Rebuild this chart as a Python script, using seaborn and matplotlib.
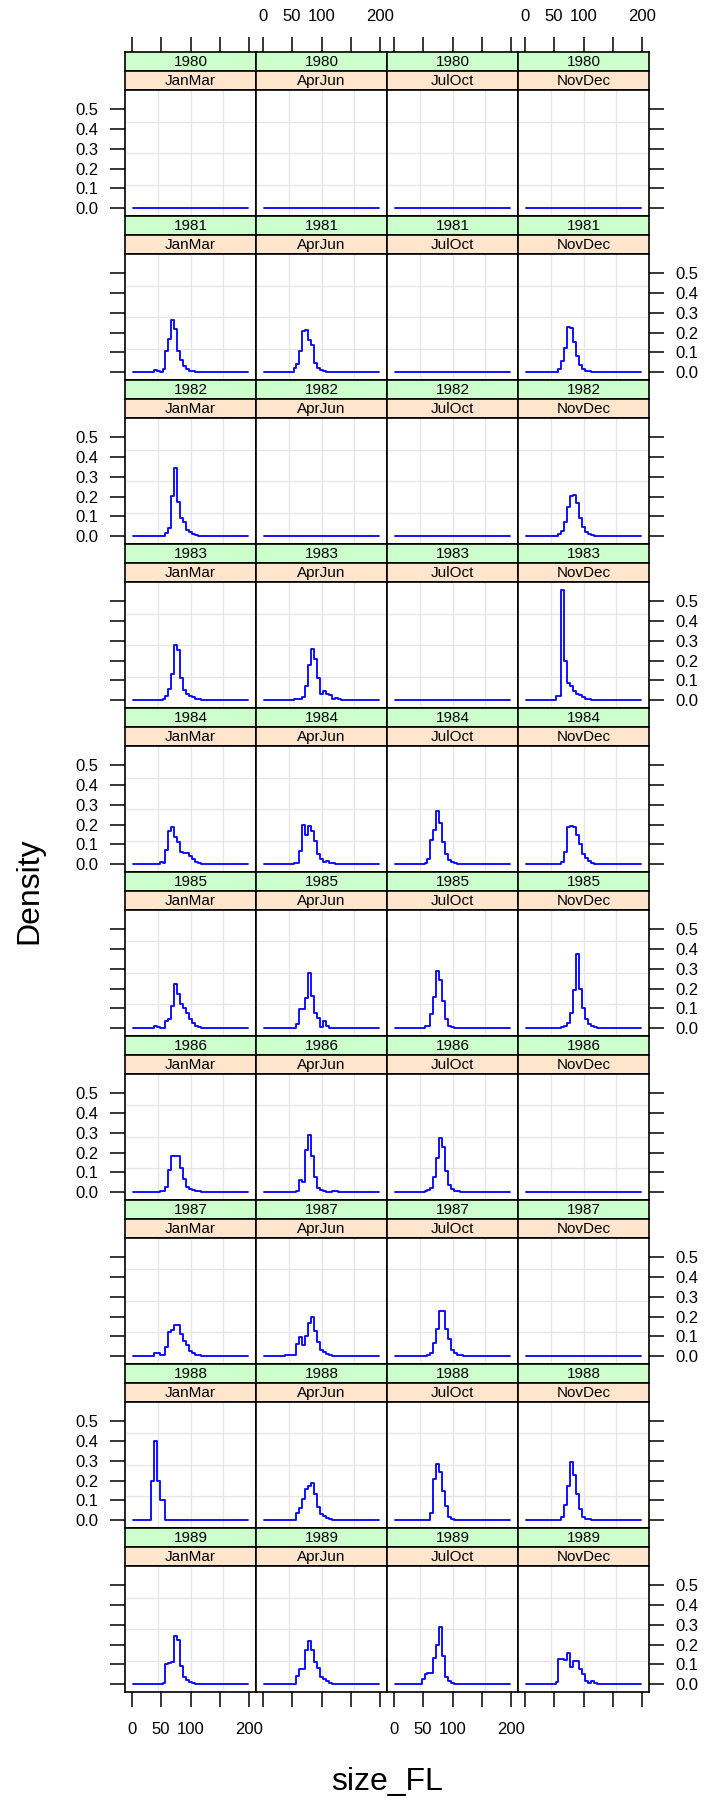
import numpy as np
import pandas as pd
import matplotlib
matplotlib.use("Agg")
import matplotlib.pyplot as plt
import seaborn as sns

sns.set_style("white")
plt.rcParams["font.family"] = ["Liberation Sans", "DejaVu Sans"]
plt.rcParams.update({"text.color": "black", "xtick.color": "black",
                     "ytick.color": "black", "axes.edgecolor": "black"})

# size class starts (cm FL), 5 cm bins
size_bins = [2.5, 7.5, 12.5, 17.5, 22.5, 27.5, 32.5, 37.5, 42.5, 47.5,
             52.5, 57.5, 62.5, 67.5, 72.5, 77.5, 82.5, 87.5, 92.5, 97.5,
             102.5, 107.5, 112.5, 117.5, 122.5, 127.5, 132.5, 137.5, 142.5, 147.5,
             152.5, 157.5, 162.5, 167.5, 172.5, 177.5, 182.5, 187.5, 192.5, 197.5]

seasons = ["JanMar", "AprJun", "JulOct", "NovDec"]
years = list(range(1980, 1990))

# per panel: (first non-zero bin, densities from that bin on)
dens_1980 = {"JanMar": (0, []), "AprJun": (0, []), "JulOct": (0, []), "NovDec": (0, [])}
dens_1981 = {
    "JanMar": (7, [0.010, 0.005, 0.003, 0.017, 0.106, 0.170, 0.265, 0.218, 0.106, 0.064, 0.034, 0.017, 0.007, 0.004]),
    "AprJun": (10, [0.022, 0.042, 0.106, 0.210, 0.215, 0.161, 0.139, 0.047, 0.022, 0.013, 0.006, 0.003]),
    "JulOct": (0, []),
    "NovDec": (11, [0.017, 0.055, 0.122, 0.230, 0.225, 0.155, 0.084, 0.039, 0.017, 0.008, 0.004]),
}
dens_1982 = {
    "JanMar": (11, [0.017, 0.042, 0.205, 0.345, 0.173, 0.093, 0.071, 0.034, 0.022, 0.012, 0.005, 0.003]),
    "AprJun": (0, []),
    "JulOct": (0, []),
    "NovDec": (11, [0.010, 0.025, 0.072, 0.146, 0.205, 0.207, 0.170, 0.090, 0.045, 0.020, 0.010, 0.005]),
}
dens_1983 = {
    "JanMar": (9, [0.003, 0.005, 0.022, 0.056, 0.135, 0.278, 0.253, 0.114, 0.054, 0.034, 0.022, 0.015, 0.008, 0.004, 0.002]),
    "AprJun": (10, [0.004, 0.004, 0.005, 0.017, 0.072, 0.177, 0.258, 0.210, 0.114, 0.034, 0.045, 0.034, 0.025, 0.008, 0.013, 0.008]),
    "JulOct": (0, []),
    "NovDec": (10, [0.022, 0.022, 0.558, 0.196, 0.086, 0.070, 0.047, 0.034, 0.025, 0.015, 0.008, 0.004]),
}
dens_1984 = {
    "JanMar": (9, [0.012, 0.008, 0.071, 0.168, 0.190, 0.140, 0.113, 0.062, 0.059, 0.059, 0.042, 0.025, 0.013, 0.007, 0.003]),
    "AprJun": (10, [0.004, 0.005, 0.067, 0.200, 0.146, 0.194, 0.170, 0.118, 0.050, 0.025, 0.013, 0.017, 0.008, 0.008, 0.003]),
    "JulOct": (10, [0.008, 0.025, 0.123, 0.173, 0.269, 0.210, 0.114, 0.050, 0.022, 0.012, 0.005, 0.003]),
    "NovDec": (12, [0.010, 0.062, 0.190, 0.194, 0.190, 0.150, 0.100, 0.050, 0.030, 0.015, 0.007, 0.003]),
}
dens_1985 = {
    "JanMar": (7, [0.012, 0.005, 0.003, 0.002, 0.037, 0.047, 0.114, 0.224, 0.173, 0.121, 0.104, 0.076, 0.045, 0.025, 0.012, 0.005, 0.002]),
    "AprJun": (11, [0.022, 0.098, 0.098, 0.152, 0.278, 0.163, 0.076, 0.054, 0.008, 0.037, 0.012, 0.002]),
    "JulOct": (10, [0.010, 0.012, 0.072, 0.160, 0.291, 0.244, 0.138, 0.045, 0.012, 0.005, 0.003]),
    "NovDec": (12, [0.005, 0.010, 0.025, 0.076, 0.194, 0.374, 0.200, 0.100, 0.045, 0.020, 0.010, 0.005]),
}
dens_1986 = {
    "JanMar": (9, [0.004, 0.005, 0.025, 0.113, 0.183, 0.185, 0.185, 0.123, 0.067, 0.029, 0.017, 0.013, 0.008, 0.005, 0.002]),
    "AprJun": (10, [0.003, 0.005, 0.062, 0.050, 0.215, 0.291, 0.185, 0.079, 0.022, 0.012, 0.005, 0.002, 0.002, 0.005, 0.006, 0.002]),
    "JulOct": (10, [0.008, 0.012, 0.022, 0.079, 0.173, 0.274, 0.230, 0.109, 0.039, 0.017, 0.007, 0.004, 0.002]),
    "NovDec": (0, []),
}
dens_1987 = {
    "JanMar": (7, [0.017, 0.017, 0.008, 0.008, 0.045, 0.121, 0.135, 0.157, 0.160, 0.113, 0.079, 0.059, 0.025, 0.017, 0.008, 0.008, 0.003, 0.002]),
    "AprJun": (7, [0.004, 0.004, 0.004, 0.004, 0.062, 0.096, 0.059, 0.101, 0.168, 0.200, 0.130, 0.072, 0.032, 0.022, 0.013, 0.008, 0.003]),
    "JulOct": (11, [0.008, 0.017, 0.067, 0.138, 0.227, 0.230, 0.138, 0.088, 0.034, 0.017, 0.008, 0.005, 0.002]),
    "NovDec": (0, []),
}
dens_1988 = {
    "JanMar": (6, [0.2, 0.4, 0.2, 0.1, 0.1]),
    "AprJun": (11, [0.036, 0.061, 0.107, 0.157, 0.171, 0.188, 0.132, 0.068, 0.030, 0.022, 0.010, 0.008, 0.003]),
    "JulOct": (12, [0.036, 0.208, 0.284, 0.242, 0.149, 0.073, 0.014, 0.005, 0.003]),
    "NovDec": (12, [0.014, 0.076, 0.174, 0.293, 0.228, 0.132, 0.056, 0.014, 0.008, 0.008, 0.003]),
}
dens_1989 = {
    "JanMar": (10, [0.008, 0.102, 0.108, 0.113, 0.245, 0.223, 0.090, 0.039, 0.022, 0.012, 0.006, 0.003]),
    "AprJun": (11, [0.042, 0.076, 0.076, 0.174, 0.216, 0.174, 0.113, 0.080, 0.039, 0.025, 0.014, 0.008, 0.003]),
    "JulOct": (9, [0.029, 0.051, 0.055, 0.055, 0.135, 0.200, 0.291, 0.144, 0.039, 0.017, 0.005, 0.003]),
    "NovDec": (10, [0.012, 0.127, 0.127, 0.122, 0.156, 0.088, 0.115, 0.115, 0.076, 0.051, 0.017, 0.008, 0.014, 0.005]),
}
all_dens = [dens_1980, dens_1981, dens_1982, dens_1983, dens_1984,
            dens_1985, dens_1986, dens_1987, dens_1988, dens_1989]

rows = []
for yr, d in zip(years, all_dens):
    for s in seasons:
        start, vals = d[s]
        full = np.zeros(len(size_bins))
        full[start:start + len(vals)] = vals
        for x, v in zip(size_bins, full):
            rows.append({"year": yr, "season": s, "size_FL": x, "Density": v})
df = pd.DataFrame(rows)

# lattice-style 7% padding of the data range
xr = max(size_bins) - min(size_bins)
xlim = (min(size_bins) - 0.07 * xr, max(size_bins) + 0.07 * xr)
yr_ = df["Density"].max()
ylim = (-0.07 * yr_, yr_ * 1.07)
xticks = [0, 50, 100, 150, 200]
xtick_labels = ["0", "50", "100", "", "200"]
yticks = [0.0, 0.1, 0.2, 0.3, 0.4, 0.5]

W, H = 707, 1798
fig = plt.figure(figsize=(W / 100, H / 100), dpi=100)

def box(left, top, w, h):
    return [left / W, 1 - (top + h) / H, w / W, h / H]

col_w, row_h, strip_h, pan_h = 131, 164, 19, 126
x0, y0 = 125, 52
tick_len = 10.5
tick_fs = 12

for r, yr in enumerate(years):
    for c, s in enumerate(seasons):
        left = x0 + col_w * c
        top = y0 + row_h * r
        s1 = fig.add_axes(box(left, top, col_w, strip_h))
        s2 = fig.add_axes(box(left, top + strip_h, col_w, strip_h))
        for sa, txt, colr in ((s1, str(yr), "#CCFFCC"), (s2, s, "#FFE5CC")):
            sa.set_facecolor(colr)
            sa.set_xlim(xlim)
            sa.set_yticks([])
            sa.set_xticks([])
            sa.text(0.5, 0.47, txt, transform=sa.transAxes, ha="center",
                    va="center", fontsize=11)
            for sp in sa.spines.values():
                sp.set_linewidth(1.2)
        if r == 0:
            s1.set_xticks(xticks)
            s1.set_xticklabels(xtick_labels)
            s1.tick_params(axis="x", top=True, bottom=False, labeltop=(c % 2 == 1),
                           labelbottom=False, length=tick_len, width=1.1,
                           pad=9.5, labelsize=tick_fs, direction="out")

        ax = fig.add_axes(box(left, top + 2 * strip_h, col_w, pan_h))
        sub = df[(df["year"] == yr) & (df["season"] == s)]
        sns.lineplot(data=sub, x="size_FL", y="Density", ax=ax, color="#0000FF",
                     lw=1.3, drawstyle="steps-post", estimator=None, zorder=3)
        ax.set_xlim(xlim)
        ax.set_ylim(ylim)
        for f in (0.25, 0.5, 0.75):
            ax.axvline(xlim[0] + f * (xlim[1] - xlim[0]), color="#E6E6E6", lw=1.0, zorder=0)
            ax.axhline(ylim[0] + f * (ylim[1] - ylim[0]), color="#E6E6E6", lw=1.0, zorder=0)
        ax.set_xlabel("")
        ax.set_ylabel("")
        ax.set_yticks(yticks)
        ax.set_yticklabels([f"{v:.1f}" for v in yticks])
        ax.set_xticks(xticks)
        ax.set_xticklabels(xtick_labels)
        ax.tick_params(axis="y", left=(c == 0), right=(c == 3),
                       labelleft=(c == 0 and r % 2 == 0),
                       labelright=(c == 3 and r % 2 == 1),
                       length=tick_len, width=1.1, pad=8.5,
                       labelsize=tick_fs, direction="out")
        ax.tick_params(axis="x", bottom=(r == 9), top=False,
                       labelbottom=(r == 9 and c % 2 == 0),
                       length=tick_len, width=1.1, pad=11,
                       labelsize=tick_fs, direction="out")
        for sp in ax.spines.values():
            sp.set_linewidth(1.2)
            sp.set_color("black")

fig.text(387 / W, 1 - 1790 / H, "size_FL", ha="center", va="baseline", fontsize=23)
fig.text(29 / W, 1 - 891 / H, "Density", rotation=90, ha="center", va="center", fontsize=23)

fig.savefig("out.png", dpi=100)
